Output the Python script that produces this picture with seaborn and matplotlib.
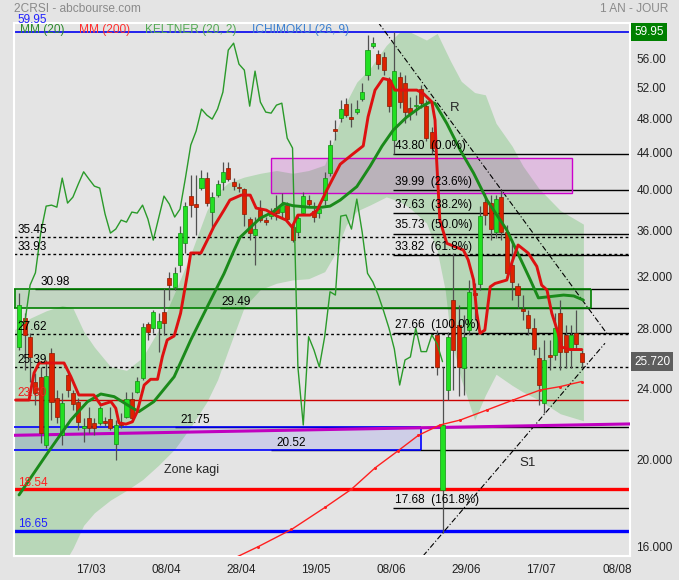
import numpy as np
import pandas as pd
import matplotlib
matplotlib.use("Agg")
import matplotlib.pyplot as plt
import matplotlib.transforms as mtransforms
from matplotlib.patches import Rectangle
from matplotlib.ticker import NullLocator
import seaborn as sns

# daily candles (OHLC), one per trading day
opens = [26.72, 28.77, 27.42, 24.42, 24.74, 20.77, 26.28, 23.41, 21.31, 24.85,
         23.71, 23.21, 21.69, 22.24, 21.97, 21.99, 22.08, 22.20, 20.81, 21.99,
         22.33, 23.37, 23.81, 24.64, 28.30, 28.01, 28.01, 29.19, 31.85, 31.16,
         32.95, 34.83, 39.33, 38.53, 40.15, 41.19, 37.75, 39.43, 40.80, 42.26,
         40.77, 40.25, 40.04, 37.08, 35.59, 37.94, 36.98, 37.36, 38.14, 37.75,
         38.43, 36.32, 35.86, 37.65, 38.93, 37.84, 37.65, 38.93, 41.72, 46.71,
         48.04, 49.80, 48.16, 48.79, 50.44, 53.65, 57.79, 56.61, 56.18, 52.96,
         45.41, 53.37, 52.56, 49.29, 49.54, 51.75, 49.54, 46.35, 27.54, 18.50,
         23.91, 30.12, 28.25, 25.30, 27.89, 30.69, 31.38, 38.73, 38.63, 35.86,
         39.23, 35.89, 32.95, 31.22, 29.43, 28.99, 28.03, 25.96, 23.13, 26.16,
         26.16, 29.14, 27.54, 26.57, 27.68, 26.32]
highs = [30.67, 29.14, 27.68, 24.98, 25.38, 25.83, 26.63, 23.91, 23.73, 25.06,
         23.91, 23.43, 22.26, 22.91, 22.26, 22.95, 22.33, 22.91, 22.14, 22.55,
         23.81, 23.81, 24.74, 28.37, 28.47, 29.36, 29.14, 31.06, 32.40, 32.81,
         36.38, 38.76, 41.51, 41.51, 42.04, 41.86, 39.77, 40.98, 42.96, 42.96,
         41.19, 40.66, 40.15, 37.30, 37.30, 38.93, 37.30, 38.14, 39.43, 39.63,
         38.76, 36.51, 37.46, 39.77, 39.43, 38.76, 38.43, 41.83, 45.41, 47.80,
         50.31, 50.57, 49.92, 50.31, 52.56, 59.50, 59.13, 57.20, 56.91, 53.37,
         59.95, 54.06, 53.65, 50.70, 50.96, 52.29, 50.31, 46.95, 27.89, 25.37,
         27.75, 34.00, 29.74, 28.99, 31.71, 31.46, 38.33, 39.63, 39.43, 39.43,
         39.94, 36.51, 35.13, 31.46, 30.51, 29.36, 28.77, 26.70, 27.19, 27.19,
         29.14, 30.12, 28.25, 28.25, 29.36, 26.50]
lows = [26.50, 25.17, 24.40, 23.01, 20.89, 20.61, 22.14, 21.97, 20.77, 23.51,
        22.72, 21.58, 20.95, 21.42, 21.31, 21.86, 21.80, 21.58, 19.98, 21.69,
        22.26, 22.04, 23.71, 24.53, 27.19, 27.66, 26.39, 27.54, 30.12, 30.91,
        32.36, 33.98, 37.30, 35.59, 39.94, 38.33, 36.23, 39.23, 39.94, 40.87,
        39.94, 39.73, 36.42, 35.13, 32.95, 36.79, 36.51, 37.08, 36.98, 37.17,
        36.79, 34.95, 35.50, 37.46, 38.23, 36.82, 37.17, 38.43, 41.40, 45.41,
        47.55, 48.16, 46.95, 48.54, 50.18, 52.96, 57.50, 54.48, 53.65, 48.79,
        43.80, 49.29, 47.43, 47.80, 48.41, 49.29, 45.29, 43.85, 24.85, 16.57,
        23.31, 23.91, 23.55, 23.61, 27.54, 28.62, 30.91, 36.51, 35.13, 35.31,
        35.13, 31.87, 30.12, 29.51, 28.62, 27.54, 26.16, 23.01, 22.55, 25.17,
        25.83, 25.17, 25.30, 25.30, 26.50, 25.30]
closes = [29.74, 27.54, 26.05, 23.71, 21.40, 24.78, 23.21, 22.33, 23.13, 23.91,
          23.07, 22.04, 21.80, 21.67, 21.69, 22.84, 21.95, 21.69, 21.86, 21.86,
          23.37, 22.26, 24.47, 28.08, 27.73, 29.19, 28.57, 28.37, 31.30, 32.31,
          35.82, 38.33, 38.43, 38.23, 41.19, 38.63, 39.23, 40.56, 41.86, 41.08,
          40.35, 40.15, 37.56, 35.77, 36.14, 36.98, 36.79, 37.75, 37.65, 38.43,
          37.08, 35.13, 37.17, 39.33, 38.53, 37.27, 38.04, 41.19, 44.83, 46.47,
          49.17, 48.41, 47.92, 49.17, 51.36, 57.20, 58.23, 55.18, 54.34, 49.54,
          54.20, 50.05, 48.79, 48.66, 49.67, 49.92, 45.64, 44.49, 25.37, 21.86,
          27.42, 26.50, 25.37, 27.42, 30.77, 30.51, 37.36, 37.46, 36.14, 39.03,
          35.86, 32.26, 31.55, 30.51, 29.29, 28.03, 26.57, 24.22, 25.83, 26.03,
          28.03, 26.39, 26.39, 27.54, 26.91, 25.72]

# MM (20)
mm20_x = [0.94, 6.23, 10.6, 13.7, 16.2, 18.7, 21.2, 23.3, 26.1, 29.9, 33.0, 36.1,
          39.2, 41.1, 42.2, 45.9, 48.4, 50.3, 52.1, 55.2, 57.1, 59.0, 60.9, 64.0,
          66.5, 68.7, 70.8, 73.3, 75.8, 77.7, 78.6, 80.8, 83.3, 85.8, 88.3, 92.0,
          94.5, 96.4, 97.9, 100.7, 102.6, 104.5, 106.3]
mm20_y = [18.27, 20.33, 22.14, 23.2, 23.67, 23.51, 23.01, 22.62, 23.21, 24.74, 27.19,
          29.62, 32.23, 34.24, 35.38, 37.14, 37.78, 38.61, 38.37, 38.22, 38.2, 38.33,
          38.93, 40.30, 42.48, 44.71, 46.59, 48.16, 49.38, 50.09, 49.88, 47.39, 44.26,
          41.72, 38.93, 36.05, 33.53, 31.71, 30.29, 30.42, 30.51, 30.44, 30.12]

# MM (200)
mm200_x = [40.3, 45.6, 51.8, 58.1, 63.0, 67.4, 71.7, 75.5, 79.5, 83.3, 88.3, 93.2,
           98.2, 101.9, 106.0]
mm200_y = [15.45, 16.00, 16.72, 17.70, 18.54, 19.58, 20.46, 21.29, 21.86, 22.14,
           22.72, 23.31, 23.91, 24.12, 24.44]

# Ichimoku (26, 9) base line
ichi_x = [0.3, 2.81, 3.74, 4.68, 9.34, 10.6, 12.1, 14.9, 16.2, 18.1, 19.0, 19.6, 20.9,
          22.1, 23.0, 24.3, 25.5, 26.8, 27.7, 28.6, 29.9, 31.1, 32.4, 33.0, 34.9, 36.4,
          37.3, 39.2, 40.3, 42.4, 44.1, 45.2, 47.1, 48.7, 50.8, 51.9, 53.0, 55.3, 56.6,
          57.5, 58.4, 60.9, 63.0, 65.2, 66.1, 67.4, 68.9, 70.2, 71.1, 75.2, 76.4, 78.0,
          78.6, 78.9, 79.5, 80.8, 83.9, 84.8, 85.8, 86.4, 87.0, 87.9, 88.9, 89.8, 92.0,
          92.9, 94.1, 96.0, 97.6, 98.5, 99.5, 100.4, 101.6, 102.2, 103.8, 106.0]
ichi_y = [23.31, 23.31, 24.98, 25.63, 25.63, 24.76, 23.61, 23.61, 23.01, 23.21, 22.82,
          21.98, 21.91, 22.04, 22.62, 24.22, 24.58, 24.58, 26.05, 27.19, 27.47, 29.12,
          32.26, 33.99, 33.99, 35.43, 36.36, 37.94, 38.93, 39.43, 39.43, 38.14, 37.94,
          37.46, 36.98, 36.32, 37.46, 37.46, 37.94, 38.93, 39.94, 42.68, 43.69, 44.74,
          48.20, 51.62, 53.19, 52.96, 51.62, 51.62, 51.18, 50.09, 47.80, 43.14, 36.98,
          34.84, 34.24, 33.38, 31.71, 29.12, 27.66, 27.89, 31.16, 31.43, 31.71, 33.10,
          34.69, 33.98, 32.84, 31.30, 30.91, 29.12, 27.66, 26.70, 26.53, 26.53]

# Keltner (20, 2) band
kelt_x = [0, 3, 6, 9, 11, 13, 15, 18, 21, 24, 27, 30, 33, 36, 38, 40, 43, 46, 49, 52,
          55, 58, 60, 62, 64, 66.5, 69.5, 72, 74, 77, 79, 80.5, 81.5, 83.5, 86, 88, 90,
          93, 95, 98, 102, 106.3]
kelt_up = [27.89, 28.75, 29.3, 29.7, 29.5, 27.8, 26.7, 25.4, 25.15, 26.0, 27.9, 30.7,
           33.9, 37.9, 39.7, 40.7, 41.3, 41.7, 42.0, 41.7, 42.0, 42.6, 46.0, 50.0, 52.7,
           54.6, 57.9, 59.9, 59.9, 58.7, 59.7, 57.2, 55.6, 52.8, 51.3, 51.0, 47.4, 44.7,
           42.5, 40.1, 37.9, 36.6]
kelt_lo = [13.96, 14.3, 14.72, 15.2, 15.93, 16.9, 17.45, 18.03, 18.48, 19.0, 19.72,
           20.55, 21.75, 23.2, 24.55, 26.5, 29.6, 30.95, 31.45, 31.72, 31.82, 32.4,
           33.95, 36.5, 37.85, 38.45, 39.25, 38.8, 38.1, 36.7, 34.2, 30.9, 27.4, 24.55,
           22.14, 23.6, 24.9, 24.2, 23.8, 23.3, 22.5, 22.1]

# Fibonacci retracement
fib_vals = [43.80, 39.99, 37.63, 35.73, 33.82, 27.66, 17.68]
fib_pcts = ["0.0%", "23.6%", "38.2%", "50.0%", "61.8%", "100.0%", "161.8%"]

# dotted levels
dot_vals = [35.45, 33.93, 27.62, 25.39]

x_ticks = [14.4, 28.4, 42.35, 56.4, 70.4, 84.4, 98.45, 112.6]
x_labels = ["17/03", "08/04", "28/04", "19/05", "08/06", "29/06", "17/07", "08/08"]
y_ticks = [16, 20, 24, 28, 32, 36, 40, 44, 48, 52, 56]
y_labels = ["16.000", "20.000", "24.000", "28.000", "32.000", "36.000", "40.000",
            "44.000", "48.000", "52.00", "56.00"]

df = pd.DataFrame({"i": np.arange(1, len(closes) + 1), "o": opens, "h": highs,
                   "l": lows, "c": closes})

BG = "#e4e4e4"
sns.set_style("white", {"axes.facecolor": BG, "figure.facecolor": BG})
plt.rcParams["font.family"] = ["Liberation Sans", "DejaVu Sans"]

fig = plt.figure(figsize=(6.79, 5.80), dpi=100)
ax = fig.add_axes([14 / 679, 24 / 580, 616 / 679, 533.5 / 580])
ax.set_yscale("log")
ax.set_xlim(0, 115)
ax.set_ylim(15.62, 61.4)

# keltner band
ax.fill_between(kelt_x, kelt_lo, kelt_up, color="#b8d7b8", lw=0, zorder=1)

# zones
ax.add_patch(Rectangle((48.0, 39.67), 56.1, 43.36 - 39.67, facecolor="#c800c8",
                       alpha=0.17, edgecolor="none", zorder=2))
ax.add_patch(Rectangle((48.0, 39.67), 56.1, 43.36 - 39.67, facecolor="none",
                       edgecolor="#cc00cc", lw=1, zorder=2.6))
ax.add_patch(Rectangle((0, 29.49), 107.7, 30.98 - 29.49, facecolor="#008000",
                       alpha=0.15, edgecolor="none", zorder=2))
ax.add_patch(Rectangle((0, 20.52), 76.0, 21.75 - 20.52, facecolor="#4040ff",
                       alpha=0.13, edgecolor="none", zorder=2))

# horizontal levels
ax.axhline(59.95, color="#0000ee", lw=1.2, zorder=2.5)
for v in dot_vals:
    ax.axhline(v, color="black", lw=1, ls=(0, (2, 2)), zorder=2.5)
ax.hlines(30.98, 3.9, 115, color="black", lw=1, zorder=2.5)
ax.hlines(29.49, 38.5, 115, color="black", lw=1, zorder=2.5)
ax.hlines([30.98, 29.49], 0, 107.7, color="#008000", lw=1.2, zorder=2.6)
ax.vlines([0.1, 107.7], 29.49, 30.98, color="#008000", lw=1.2, zorder=2.6)
ax.axhline(23.30, color="#cc0000", lw=1, zorder=2.5)
ax.hlines(21.75, 30.0, 115, color="black", lw=1, zorder=2.5)
ax.hlines(20.52, 48.0, 115, color="black", lw=1, zorder=2.5)
ax.hlines([21.75, 20.52], 0, 76.0, color="#0000ff", lw=1.2, zorder=2.6)
ax.vlines(76.0, 20.52, 21.75, color="#0000ff", lw=1.2, zorder=2.6)
ax.plot([0, 115], [21.29, 21.92], color="#c000c0", lw=2.2, zorder=2.7,
        solid_capstyle="butt")
ax.axhline(18.54, color="#ff0000", lw=2.4, zorder=2.5)
ax.axhline(16.65, color="#0000ff", lw=2.4, zorder=2.5)
ax.hlines(fib_vals, 70.7, 115, color="black", lw=1, zorder=2.5)

# trend channel
ax.plot([67.96, 110.65], [61.46, 27.66], color="black", lw=0.8,
        ls=(0, (5, 2, 1, 2)), zorder=2.5)
ax.plot([76.36, 110.33], [15.62, 26.96], color="black", lw=0.8,
        ls=(0, (5, 2, 1, 2)), zorder=2.5)

# candles
rise = df["c"] >= df["o"]
face = np.where(rise, "#22e022", "#dd2200")
edge = np.where(rise, "#109010", "#8b1a00")
ax.vlines(df["i"], df["l"], df["h"], color="#505050", lw=0.9, zorder=3)
body_lo = np.minimum(df["o"], df["c"])
body_h = np.maximum((df["c"] - df["o"]).abs(), df["c"] * 0.004)
ax.bar(df["i"], body_h, bottom=body_lo, width=0.76, color=face, edgecolor=edge,
       linewidth=0.5, zorder=3.2)

# indicator lines
chik = pd.DataFrame({"x": df["i"].values[:-26], "y": df["c"].values[26:]})
sns.lineplot(data=chik, x="x", y="y", ax=ax, color="#2a9a2a", linewidth=1,
             estimator=None, sort=False, zorder=3.5)
sns.lineplot(x=mm200_x, y=mm200_y, ax=ax, color="#ff2020", linewidth=1,
             marker="o", markersize=2.2, markeredgewidth=0,
             estimator=None, sort=False, zorder=3.5)
sns.lineplot(x=mm20_x, y=mm20_y, ax=ax, color="#1a8a1a", linewidth=2.1,
             estimator=None, sort=False, zorder=4)
sns.lineplot(x=ichi_x, y=ichi_y, ax=ax, color="#dd1111", linewidth=2.1,
             estimator=None, sort=False, zorder=4.1)

# labels of levels
fs = 8.5
def level_label(x, y, s, color="black", dy=0.5):
    ax.annotate(s, xy=(x, y), xytext=(0, dy), textcoords="offset points",
                ha="left", va="bottom", fontsize=fs, color=color, zorder=6,
                annotation_clip=False)

level_label(0.7, 59.95, "59.95", color="#2020ff", dy=4.5)
level_label(0.7, 35.45, "35.45")
level_label(0.7, 33.93, "33.93")
level_label(4.9, 30.98, "30.98")
level_label(38.8, 29.49, "29.49")
level_label(0.7, 27.62, "27.62")
level_label(0.7, 25.39, "25.39")
level_label(0.7, 23.30, "23.30", color="#ee2020")
level_label(31.0, 21.75, "21.75")
level_label(49.0, 20.52, "20.52")
level_label(0.7, 18.54, "18.54", color="#ff2020")
level_label(0.7, 16.65, "16.65", color="#2020ff")
for v, p in zip(fib_vals, fib_pcts):
    level_label(71.1, v, f"{v:.2f}  ({p})", dy=1.5)

ax.text(82.3, 49.29, "R", fontsize=fs + 1, ha="center", va="center", zorder=6)
ax.text(95.8, 19.83, "S1", fontsize=fs + 1, ha="center", va="center", zorder=6)
ax.text(28.0, 19.48, "Zone kagi", fontsize=fs + 0.5, ha="left", va="center", zorder=6)

# axes styling
ax.yaxis.tick_right()
ax.set_yticks(y_ticks)
ax.set_yticklabels(y_labels)
ax.yaxis.set_minor_locator(NullLocator())
ax.set_xticks(x_ticks)
ax.set_xticklabels(x_labels)
ax.tick_params(axis="y", length=0, pad=4.5, labelsize=fs, labelcolor="#222222")
ax.tick_params(axis="x", length=0, pad=5.5, labelsize=fs, labelcolor="#222222")
ax.set_xlabel("")
ax.set_ylabel("")
for s in ax.spines.values():
    s.set_color("white")
    s.set_linewidth(1.5)

trans = mtransforms.blended_transform_factory(ax.transAxes, ax.transData)
ax.text(1.0065, 59.95, "59.95", transform=trans, ha="left", va="center",
        fontsize=fs, color="white", clip_on=False,
        bbox=dict(boxstyle="square,pad=0.28", fc="#008000", ec="none"))
ax.text(1.0065, 25.72, "25.720", transform=trans, ha="left", va="center",
        fontsize=fs, color="white", clip_on=False,
        bbox=dict(boxstyle="square,pad=0.28", fc="#5e5e5e", ec="none"))

# header
fig.text(14 / 679, 1 - 9 / 580, "2CRSI - abcbourse.com", fontsize=8.6,
         color="#8a8a8a", ha="left", va="center")
fig.text(668 / 679, 1 - 9 / 580, "1 AN - JOUR", fontsize=8.6,
         color="#8a8a8a", ha="right", va="center")
legend_items = [("MM (20)", 20, "#2e8b2e"), ("MM (200)", 79, "#ff3030"),
                ("KELTNER (20, 2)", 145, "#55aa55"), ("ICHIMOKU (26, 9)", 252, "#3a7fd0")]
for txt, px, col in legend_items:
    fig.text(px / 679, 1 - 29.5 / 580, txt, fontsize=8.6, color=col,
             ha="left", va="center")

fig.savefig("out.png", dpi=100, facecolor=fig.get_facecolor())
